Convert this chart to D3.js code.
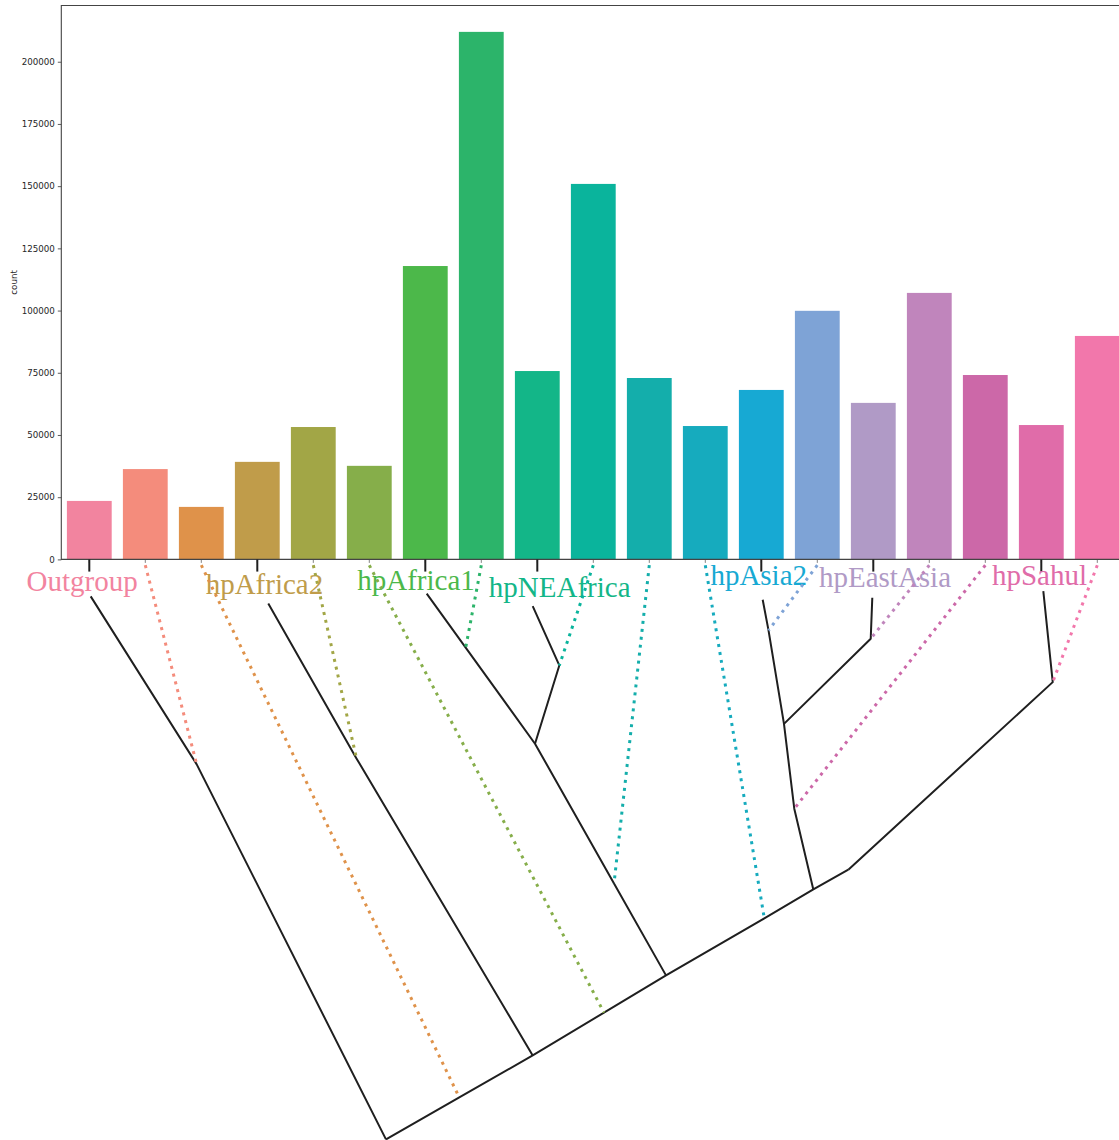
<!DOCTYPE html>
<html>
<head>
<meta charset="utf-8">
<script src="https://cdn.jsdelivr.net/npm/d3@7"></script>
<style>
  body { margin: 0; background: #ffffff; }
  svg { display: block; }
</style>
</head>
<body>
<svg id="chart" width="1119" height="1140"></svg>
<script>
// ---------- data ----------
// one bar per sub-population, in tree order
const categories = ["P01","P02","P03","P04","P05","P06","P07","P08","P09","P10",
                    "P11","P12","P13","P14","P15","P16","P17","P18","P19"];
const counts = [23500, 36300, 21100, 39200, 53200, 37600, 117900, 212000, 75700, 150900,
                72900, 53600, 68100, 99900, 62900, 107100, 74100, 54000, 89800];
const yTicks = [0, 25000, 50000, 75000, 100000, 125000, 150000, 175000, 200000];

// labelled populations (leaves of the tree) and the bar each one sits on
const leafNames = ["Outgroup","hpAfrica2","hpAfrica1","hpNEAfrica","hpAsia2","hpEastAsia","hpSahul"];
const leafBar   = [0, 3, 6, 8, 12, 14, 17];
// label anchor: position in bar units and depth of the baseline
const labelPos   = [-0.127, 3.128, 5.834, 8.40, 11.954, 14.209, 16.968];
const labelDepth = [5.52, 6.03, 5.34, 6.55, 4.48, 4.83, 4.48];

// tree nodes: horizontal position in bar units, depth 0 (axis) .. 100 (root)
const nodeNames = ["outTop","outMix","root","af2Top","af2Mix","af2Join","af1Top","af1Mix",
                   "neTop","neMix","neaf1","neaf1Mix","af1Join","bbOrange","bbGreen","bbCyan",
                   "asiaJoin","sahulJoin","asia2Top","asia2Mix","eaJoin","asia2Mix2",
                   "eaTop","eaMix","sahulTop","sahulMix"];
const nodePos   = [0.025, 1.918, 5.298, 3.196, 4.771, 7.918, 6.025, 6.721,
                   7.918, 8.393, 7.959, 9.37, 10.298, 6.607, 9.191, 12.054,
                   12.929, 13.554, 12.025, 12.129, 12.405, 12.589,
                   13.982, 13.954, 17.036, 17.204];
const nodeDepth = [6.38, 35.34, 100, 7.59, 34.31, 85.52, 5.91, 15.22,
                   8.05, 18.28, 31.78, 55.86, 71.72, 92.77, 78.14, 61.9,
                   56.9, 53.5, 6.95, 12.24, 28.36, 42.98,
                   6.60, 13.67, 5.47, 21.16];

// solid branches, each a path through named nodes
const branches = [
  ["outTop","outMix","root"],
  ["af2Top","af2Mix","af2Join"],
  ["af1Top","af1Mix","neaf1","neaf1Mix","af1Join"],
  ["neTop","neMix","neaf1"],
  ["asia2Top","asia2Mix","eaJoin","asia2Mix2","asiaJoin"],
  ["eaTop","eaMix","eaJoin"],
  ["sahulTop","sahulMix","sahulJoin"],
  ["root","bbOrange","af2Join","bbGreen","af1Join","bbCyan","asiaJoin","sahulJoin"]
];

// dotted links: bar index -> node where that sub-population attaches
const linkBar    = [1, 2, 4, 5, 7, 9, 10, 11, 13, 15, 16, 18];
const linkTarget = ["outMix","bbOrange","af2Mix","bbGreen","af1Mix","neMix","neaf1Mix",
                    "bbCyan","asia2Mix","eaMix","asia2Mix2","sahulMix"];
const linkStartDepth = 1.0;

// one colour per sub-population
const palette = ["#f2849f","#f48c7c","#df924a","#c09c4a","#a2a646","#86ae4a","#4cb84a",
                 "#2cb46a","#13b688","#0ab49c","#14aeab","#16abbe","#17a9d3","#7ea3d6",
                 "#b09ac6","#c085bc","#cc68a8","#e06ca9","#f277ab"];

// ---------- layout ----------
const svg = d3.select("#chart");
const plot = { left: 61.3, right: 1125.3, top: 5.5, bottom: 559.4 };
const treeSpan = 580;

const x = d3.scaleBand().domain(categories).range([plot.left, plot.right])
  .paddingInner(0.2).paddingOuter(0.1);
const y = d3.scaleLinear().domain([0, d3.max(counts) * 1.05]).range([plot.bottom, plot.top]);
const cx = i => x(categories[i]) + x.bandwidth() / 2;
const tx = d3.scaleLinear().domain([0, categories.length - 1]).range([cx(0), cx(categories.length - 1)]);
const ty = d3.scaleLinear().domain([0, 100]).range([plot.bottom, plot.bottom + treeSpan]);

const node = {};
nodeNames.forEach((n, i) => node[n] = [tx(nodePos[i]), ty(nodeDepth[i])]);

// ---------- bars ----------
svg.append("g").selectAll("rect").data(counts).join("rect")
  .attr("x", (d, i) => x(categories[i]))
  .attr("width", x.bandwidth())
  .attr("y", d => y(d))
  .attr("height", d => y(0) - y(d))
  .attr("fill", (d, i) => palette[i]);

// ---------- axes ----------
const yAxis = svg.append("g").attr("transform", `translate(${plot.left},0)`)
  .call(d3.axisLeft(y).tickValues(yTicks).tickFormat(d3.format("d")).tickSize(3.5).tickPadding(3));
yAxis.select(".domain").remove();
yAxis.selectAll(".tick line").attr("stroke", "#333").attr("stroke-width", 0.8);
yAxis.selectAll(".tick text").attr("fill", "#262626")
  .style("font-family", "'DejaVu Sans', sans-serif").style("font-size", "8.7px");

svg.append("text")
  .attr("transform", `translate(16.5,${(plot.top + plot.bottom) / 2}) rotate(-90)`)
  .attr("text-anchor", "middle")
  .style("font-family", "'DejaVu Sans', sans-serif").style("font-size", "8.7px")
  .attr("fill", "#262626").text("count");

// x ticks (unlabelled) under every bar
const xAxis = svg.append("g").attr("transform", `translate(0,${plot.bottom})`)
  .call(d3.axisBottom(x).tickSize(3.5).tickFormat(""));
xAxis.select(".domain").remove();
xAxis.selectAll(".tick line").attr("stroke", "#666").attr("stroke-width", 0.8);

// frame
svg.append("path")
  .attr("d", `M${plot.left},${plot.bottom}V${plot.top}H${plot.right}V${plot.bottom}Z`)
  .attr("fill", "none").attr("stroke", "#444").attr("stroke-width", 1.1);

// leaf stubs below the axis
svg.append("g").selectAll("line").data(leafBar).join("line")
  .attr("x1", i => cx(i)).attr("x2", i => cx(i))
  .attr("y1", plot.bottom).attr("y2", ty(2.1))
  .attr("stroke", "#1f1f1f").attr("stroke-width", 2);

// ---------- labels ----------
svg.append("g").selectAll("text").data(leafNames).join("text")
  .attr("x", (d, i) => tx(labelPos[i]))
  .attr("y", (d, i) => ty(labelDepth[i]))
  .attr("text-anchor", "middle")
  .style("font-family", "'Liberation Serif', 'Times New Roman', serif")
  .style("font-size", "29px")
  .attr("fill", (d, i) => palette[leafBar[i]])
  .text(d => d);

// ---------- tree ----------
const line = d3.line();
svg.append("g").selectAll("path").data(branches).join("path")
  .attr("d", b => line(b.map(n => node[n])))
  .attr("fill", "none").attr("stroke", "#1f1f1f").attr("stroke-width", 2)
  .attr("stroke-linejoin", "round");

svg.append("g").selectAll("line").data(linkBar).join("line")
  .attr("x1", i => cx(i)).attr("y1", ty(linkStartDepth))
  .attr("x2", (i, k) => node[linkTarget[k]][0]).attr("y2", (i, k) => node[linkTarget[k]][1])
  .attr("stroke", i => palette[i])
  .attr("stroke-width", 3)
  .attr("stroke-dasharray", "3,5");
</script>
</body>
</html>
